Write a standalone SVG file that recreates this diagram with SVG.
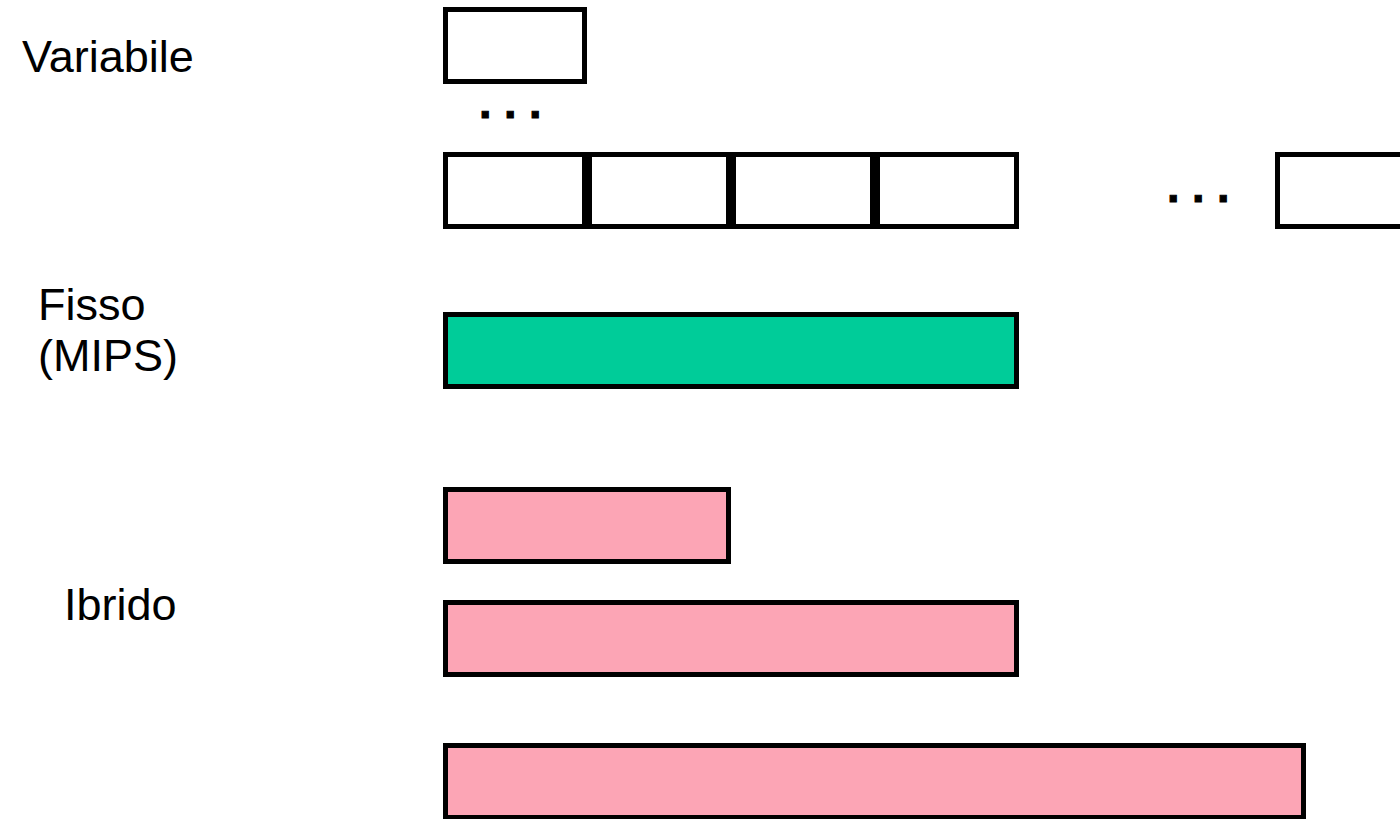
<svg xmlns="http://www.w3.org/2000/svg" width="1400" height="819" viewBox="0 0 1400 819">
<style>
.lbl{font-family:"Liberation Sans",Arial,sans-serif;font-size:45px;fill:#000}
.dots{font-family:"Liberation Sans",Arial,sans-serif;font-size:45px;font-weight:bold;fill:#000;stroke:#000;stroke-width:1}
.box{stroke:#000;stroke-width:5}
.w{fill:#fff}
.g{fill:#00CC99}
.p{fill:#FCA5B5}
</style>
<rect width="1400" height="819" fill="#fff"/>
<g id="labels">
<text class="lbl" x="22" y="72">Variabile</text>
<text class="lbl" x="38" y="320">Fisso</text>
<text class="lbl" x="38" y="371">(MIPS)</text>
<text class="lbl" x="64" y="620">Ibrido</text>
</g>
<g id="variabile">
<rect id="v-top" class="box w" x="445.5" y="9.5" width="139" height="72"/>
<text class="dots" x="479" y="118">. . .</text>
<rect id="v-1" class="box w" x="445.5" y="154.5" width="139" height="72"/>
<rect id="v-2" class="box w" x="589.5" y="154.5" width="139" height="72"/>
<rect id="v-3" class="box w" x="733.5" y="154.5" width="139" height="72"/>
<rect id="v-4" class="box w" x="877.5" y="154.5" width="139" height="72"/>
<text class="dots" x="1167" y="202">. . .</text>
<rect id="v-last" class="box w" x="1277.5" y="154.5" width="139" height="72"/>
</g>
<g id="fisso">
<rect class="box g" x="445.5" y="314.5" width="571" height="72"/>
</g>
<g id="ibrido">
<rect id="i-1" class="box p" x="445.5" y="489.5" width="283" height="72"/>
<rect id="i-2" class="box p" x="445.5" y="602.5" width="571" height="72"/>
<rect id="i-3" class="box p" x="445.5" y="745.5" width="858" height="72"/>
</g>
<g id="connectors"/>
</svg>
